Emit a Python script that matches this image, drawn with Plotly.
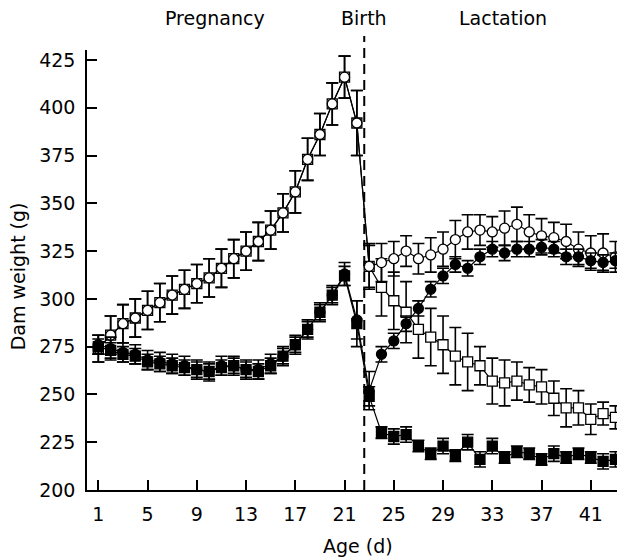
import plotly.graph_objects as go

days = list(range(1, 44))

open_circle = [274, 281, 287, 290, 294, 298, 302, 305, 308, 311, 316, 321, 325, 330, 336, 345,
               356, 373, 386, 402, 416, 392, 317, 319, 321, 325, 321, 323, 326, 331, 335, 336,
               335, 337, 339, 335, 333, 332, 330, 326, 324, 324, 322]
open_circle_err = [7, 10, 10, 10, 10, 10, 10, 10, 10, 10, 10, 10, 10, 10, 10, 10,
                   11, 11, 11, 11, 11, 17, 11, 10, 9, 8, 8, 9, 9, 10, 9, 8,
                   8, 9, 9, 9, 9, 8, 9, 9, 9, 10, 8]

open_square = [274, 281, 287, 290, 294, 298, 302, 305, 308, 311, 316, 321, 325, 330, 336, 345,
               356, 373, 386, 402, 416, 392, 317, 306, 299, 293, 284, 280, 276, 270, 267, 265,
               257, 256, 257, 255, 254, 248, 243, 243, 237, 240, 238]
open_square_err = [7, 10, 10, 10, 10, 10, 10, 10, 10, 10, 10, 10, 10, 10, 10, 10,
                   11, 11, 11, 11, 11, 17, 12, 15, 15, 16, 15, 15, 15, 15, 15, 10,
                   12, 12, 10, 9, 9, 9, 10, 9, 8, 6, 6]

filled_circle = [276, 274, 272, 271, 268, 267, 266, 265, 263, 262, 265, 265, 263, 263, 266, 270,
                 276, 284, 293, 302, 313, 289, 252, 271, 278, 287, 295, 305, 312, 318, 316, 322,
                 326, 324, 326, 326, 327, 326, 322, 322, 320, 319, 320]
filled_circle_err = [5, 6, 5, 5, 5, 5, 5, 5, 5, 5, 5, 5, 5, 5, 5, 5,
                     5, 5, 5, 5, 6, 10, 10, 4, 4, 4, 4, 4, 4, 4, 4, 4,
                     4, 4, 4, 4, 4, 4, 4, 4, 4, 4, 4]

filled_square = [275, 273, 271, 270, 267, 266, 265, 264, 263, 262, 264, 265, 263, 262, 265, 270,
                 276, 284, 293, 302, 312, 287, 249, 230, 228, 229, 223, 219, 223, 218, 225, 216,
                 223, 217, 220, 219, 216, 219, 217, 219, 217, 215, 216]
filled_square_err = [4, 4, 4, 4, 4, 4, 4, 4, 4, 4, 4, 4, 4, 4, 4, 4,
                     4, 4, 4, 4, 5, 12, 5, 3, 4, 4, 3, 3, 4, 3, 4, 4,
                     4, 3, 3, 3, 3, 4, 3, 3, 3, 4, 4]

x_ticks = [1, 5, 9, 13, 17, 21, 25, 29, 33, 37, 41]
y_ticks = [200, 225, 250, 275, 300, 325, 350, 375, 400, 425]
birth_day = 22.6
phase_labels = ["Pregnancy", "Birth", "Lactation"]
phase_label_x = [10.5, birth_day, 33.9]

FONT = "DejaVu Sans"
FS = 19

def series(y, err, symbol, fill):
    return go.Scatter(
        x=days, y=y, mode="lines+markers",
        line=dict(color="black", width=1.2),
        marker=dict(symbol=symbol, size=10, color=fill,
                    line=dict(color="black", width=1.3)),
        error_y=dict(type="data", array=err, visible=True, color="black",
                     thickness=1.6, width=6),
        showlegend=False, cliponaxis=False,
    )

fig = go.Figure()
fig.add_trace(series(open_square, open_square_err, "square", "white"))
fig.add_trace(series(open_circle, open_circle_err, "circle", "white"))
fig.add_trace(series(filled_square, filled_square_err, "square", "black"))
fig.add_trace(series(filled_circle, filled_circle_err, "circle", "black"))

fig.add_shape(type="line", xref="x", yref="paper", x0=birth_day, x1=birth_day,
              y0=0, y1=1.032, line=dict(color="black", width=2, dash="10px,6px"))

for txt, xx in zip(phase_labels, phase_label_x):
    fig.add_annotation(x=xx, xref="x", y=1.073, yref="paper", text=txt,
                       showarrow=False, font=dict(family=FONT, size=FS, color="black"),
                       xanchor="center", yanchor="middle")

fig.add_annotation(x=0.504, xref="paper", y=-0.128, yref="paper", text="Age (d)",
                   showarrow=False, font=dict(family=FONT, size=FS, color="black"),
                   xanchor="center", yanchor="middle")
fig.add_annotation(x=-0.128, xref="paper", y=0.486, yref="paper", text="Dam weight (g)",
                   textangle=-90, showarrow=False,
                   font=dict(family=FONT, size=FS, color="black"),
                   xanchor="center", yanchor="middle")

fig.update_layout(
    width=617, height=549,
    margin=dict(l=79, r=0, t=42, b=67),
    plot_bgcolor="white", paper_bgcolor="white",
    font=dict(family=FONT, size=FS, color="black"),
    xaxis=dict(range=[0.08, 43.78], tickvals=x_ticks, ticks="inside", ticklen=10,
               tickwidth=1.5, tickcolor="black", showline=True, linecolor="black",
               linewidth=1.5, showgrid=False, zeroline=False, automargin=False,
               tickfont=dict(size=FS), ticklabelstandoff=6),
    yaxis=dict(range=[200, 430.2], tickvals=y_ticks, ticks="inside", ticklen=10,
               tickwidth=1.5, tickcolor="black", showline=True, linecolor="black",
               linewidth=1.5, showgrid=False, zeroline=False, automargin=False,
               tickfont=dict(size=FS), ticklabelstandoff=6),
)

fig.write_html("out.html")
